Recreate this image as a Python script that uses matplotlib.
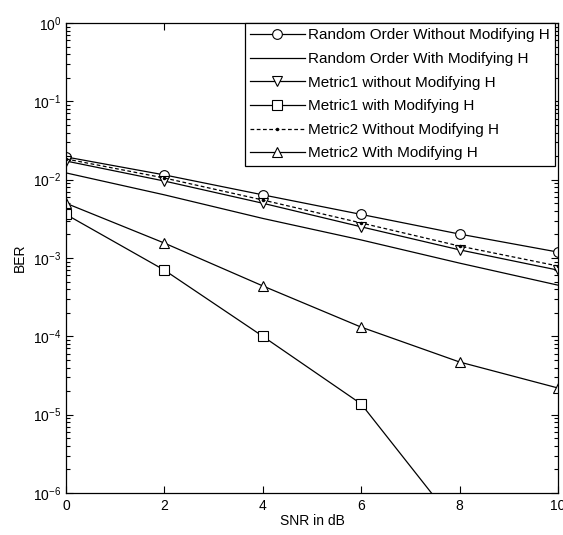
import matplotlib
matplotlib.use("Agg")
import matplotlib.pyplot as plt
from matplotlib.ticker import LogLocator, NullFormatter, FixedLocator

plt.rcParams['font.family'] = ['Liberation Sans', 'DejaVu Sans']
plt.rcParams['mathtext.fontset'] = 'custom'
plt.rcParams['mathtext.rm'] = 'Liberation Sans'

snr = [0, 2, 4, 6, 8, 10]
random_without = [0.0195, 0.0115, 0.0064, 0.0036, 0.00202, 0.00119]
random_with = [0.0122, 0.0064, 0.0032, 0.0017, 0.00086, 0.00045]
metric1_without = [0.0173, 0.0096, 0.0050, 0.0025, 0.00127, 0.00070]
metric1_with = [0.0036, 0.0007, 0.0001, 0.0000137, 3.5e-7, 1e-8]
metric2_without = [0.0184, 0.0105, 0.0055, 0.0028, 0.00142, 0.00079]
metric2_with = [0.0050, 0.00155, 0.00044, 0.000131, 0.000047, 0.0000219]

labels = ["Random Order Without Modifying H", "Random Order With Modifying H",
          "Metric1 without Modifying H", "Metric1 with Modifying H",
          "Metric2 Without Modifying H", "Metric2 With Modifying H"]

fig = plt.figure(figsize=(5.63, 5.35), dpi=100)
ax = fig.add_axes([66/563, 42/535, 492/563, 470/535])

lw = 0.9
kw = dict(color='black', lw=lw, mfc='white', mec='black', mew=0.8, ms=7)
ax.plot(snr, random_without, marker='o', label=labels[0], **kw)
ax.plot(snr, random_with, label=labels[1], color='black', lw=lw)
ax.plot(snr, metric1_without, marker='v', label=labels[2], **kw)
ax.plot(snr, metric1_with, marker='s', label=labels[3], **kw)
ax.plot(snr, metric2_without, ls=(0, (3, 2)), marker='.', ms=3, color='black', lw=lw,
        label=labels[4])
ax.plot(snr, metric2_with, marker='^', label=labels[5], **kw)

ax.set_yscale('log')
ax.set_xlim(0, 10)
ax.set_ylim(1e-6, 1)
ax.xaxis.set_major_locator(FixedLocator(snr))
ax.yaxis.set_major_locator(LogLocator(base=10, numticks=10))
ax.yaxis.set_minor_locator(LogLocator(base=10, subs=range(2, 10), numticks=10))
ax.yaxis.set_minor_formatter(NullFormatter())
ax.tick_params(which='both', direction='in', top=True, right=True, labelsize=10, width=0.8)
ax.tick_params(which='major', length=5)
ax.tick_params(which='minor', length=3)
ax.tick_params(axis='x', pad=4)
for s in ax.spines.values():
    s.set_linewidth(0.9)

ax.set_xlabel("SNR in dB", fontsize=10, labelpad=1)
ax.set_ylabel("BER", fontsize=10, labelpad=4)

leg = ax.legend(loc='upper right', bbox_to_anchor=(0.994, 1.0), borderaxespad=0,
                fancybox=False, edgecolor='black', framealpha=1, fontsize=11,
                handlelength=3.6, handletextpad=0.2, borderpad=0.35, labelspacing=0.63)
leg.get_frame().set_linewidth(0.9)

fig.savefig("out.png", dpi=100)
